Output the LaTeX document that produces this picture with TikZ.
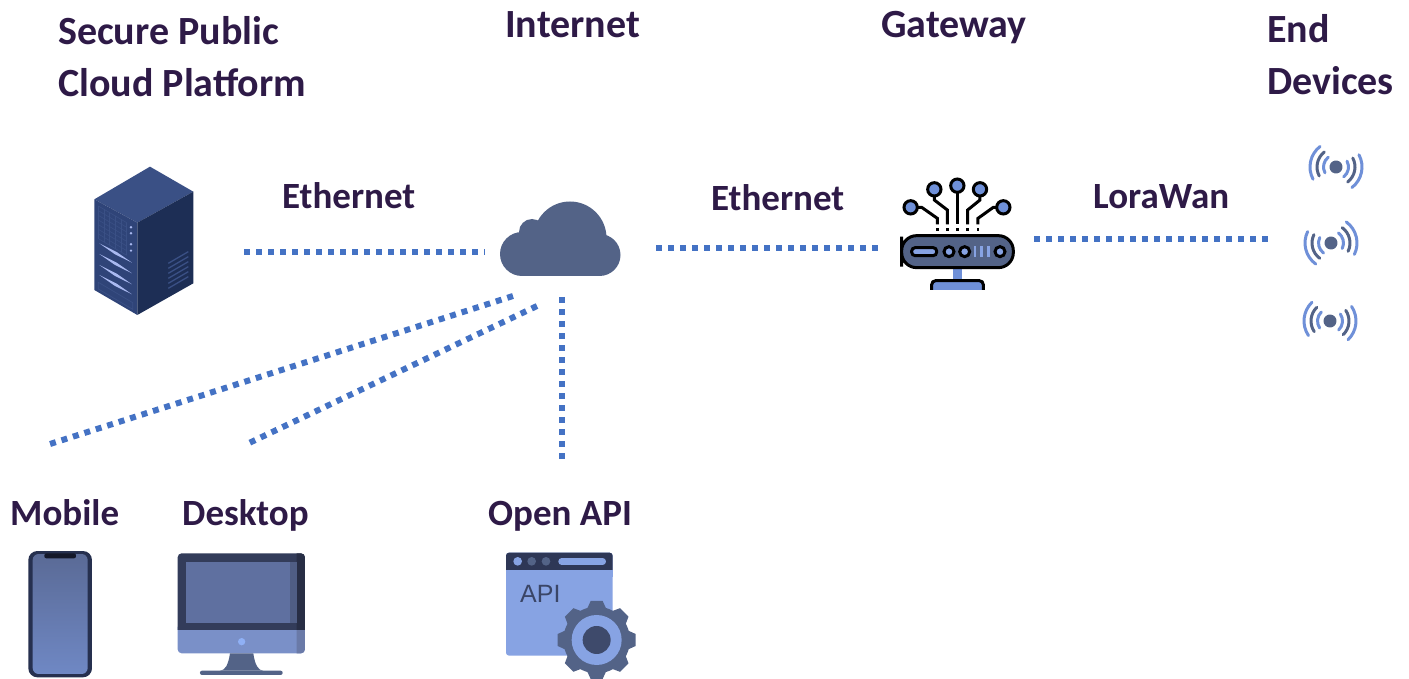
\documentclass[tikz,border=0pt]{standalone}
\usepackage{fontspec}
\setmainfont{Carlito}
\newfontfamily\apifont{Liberation Sans}
\usetikzlibrary{positioning}

\definecolor{titletext}{HTML}{2E1A47}
\definecolor{linkblue}{HTML}{4472C4}
\definecolor{slate}{HTML}{536387}
\definecolor{navy}{HTML}{2E3756}
\definecolor{sky}{HTML}{87A3E3}
\definecolor{rackface}{HTML}{2F4478}
\definecolor{racktop}{HTML}{3A5085}
\definecolor{rackside}{HTML}{1D2E55}
\definecolor{rackglow}{HTML}{A9B9F0}
\definecolor{routerblue}{HTML}{6F90D8}
\definecolor{phoneedge}{HTML}{26304F}
\definecolor{phonetop}{HTML}{5A6A96}
\definecolor{phonelow}{HTML}{6F88C4}
\definecolor{phonenotch}{HTML}{14182A}
\definecolor{deskframe}{HTML}{333C5A}
\definecolor{deskshade}{HTML}{282E45}
\definecolor{deskscreen}{HTML}{5F70A0}
\definecolor{deskstrip}{HTML}{505E85}
\definecolor{deskchin}{HTML}{7A90C8}
\definecolor{deskchinr}{HTML}{6A7AA8}
\definecolor{deskdot}{HTML}{8FB0F5}
\definecolor{apitext}{HTML}{3A4566}
\definecolor{gearhub}{HTML}{3E4A6B}

\tikzset{
    title/.style={font=\fontsize{40}{52}\selectfont\bfseries, text=titletext, anchor=base west, inner sep=0pt, align=left},
    caption/.style={title, font=\fontsize{37}{52}\selectfont\bfseries},
    link/.style={linkblue, line width=6pt, dash pattern=on 6pt off 6pt},
    zoomed/.style={shift={#1}, x=.3333pt, y=-.3333pt},
    outline/.style={draw=black, line width=3pt},
    wave/.pic={
        \fill[slate] (0,0) circle (6.5);
        \foreach \radius/\tone in {12.5/routerblue, 19/slate, 26/routerblue} {
            \draw[\tone, line width=3pt, line cap=round] (-40:\radius) arc (-40:40:\radius);
            \draw[\tone, line width=3pt, line cap=round] (140:\radius) arc (140:220:\radius);
        }
    },
}

\begin{document}
\begin{tikzpicture}[x=1pt, y=-1pt]

    \useasboundingbox (0,0) rectangle (1409,679);
    \clip (0,0) rectangle (1409,679);

    \node[title]   (cloudtitle)    at (58,97)    {Secure Public\\Cloud Platform};
    \node[title]   (internettitle) at (505,38)   {Internet};
    \node[title]   (gatewaytitle)  at (881,38)   {Gateway};
    \node[title]   (devicestitle)  at (1267,95)  {End\\Devices};
    \node[caption] (etherleft)     at (282,209)  {Ethernet};
    \node[caption] (etherright)    at (711,211)  {Ethernet};
    \node[caption] (lorawan)       at (1093,209) {LoraWan};
    \node[caption] (mobile)        at (10,525)   {Mobile};
    \node[caption] (desktop)       at (182,525)  {Desktop};
    \node[caption] (openapi)       at (488,525)  {Open API};

    \coordinate (serverport)  at (244,252);
    \coordinate (cloudwest)   at (485,252);
    \coordinate (cloudeast)   at (656,248);
    \coordinate (gatewaywest) at (878,248);
    \coordinate (gatewayeast) at (1034,239);
    \coordinate (deviceport)  at (1268,239);
    \coordinate (cloudmobile) at (513,296);
    \coordinate (mobileport)  at (50,444);
    \coordinate (clouddesk)   at (537,306);
    \coordinate (deskport)    at (247,444);
    \coordinate (cloudapi)    at (562,297);
    \coordinate (apiport)     at (562,460);

    \draw[link] (serverport)  -- (cloudwest);
    \draw[link] (cloudeast)   -- (gatewaywest);
    \draw[link] (gatewayeast) -- (deviceport);
    \draw[link] (cloudmobile) -- (mobileport);
    \draw[link] (clouddesk)   -- (deskport);
    \draw[link] (cloudapi)    -- (apiport);

    \begin{scope}[zoomed={(60,150)}]
        \fill[racktop] (270,50) -- (400,125) -- (232,218) -- (103,148) -- cycle;
        \fill[rackface] (103,148) -- (232,218) -- (232,495) -- (103,420) -- cycle;
        \fill[rackside] (232,218) -- (400,125) -- (400,400) -- (232,495) -- cycle;
        \foreach \ystart in {168,182,196,210,224,238,252,266}
            \draw[racktop, line width=.6pt] (115,\ystart) -- (200,{\ystart+50});
        \foreach \xstart in {115,132,149,166,183,200}
            \draw[racktop, line width=.6pt] (\xstart,{168+.59*(\xstart-115)}) -- (\xstart,{266+.59*(\xstart-115)});
        \foreach \ydot in {232,250,283,302}
            \fill[rackglow] (213,\ydot) circle (4);
        \foreach \ystart in {280,312,345,375}
            \fill[rackglow] (118,\ystart) -- (170,{\ystart+26}) -- (216,{\ystart+58}) -- (165,{\ystart+33}) -- cycle;
        \draw[racktop, line width=.7pt] (115,397) -- (218,458) -- (218,478) -- (115,417) -- cycle;
        \foreach \ystart in {340,355,370,385,400,415}
            \draw[racktop, line width=1.3pt] (325,\ystart) -- (385,{\ystart-35});
    \end{scope}

    \begin{scope}[slate]
        \fill (570,238) circle (36.5);
        \fill (532,232) circle (13);
        \fill (522,254) circle (22);
        \fill (599.5,255) circle (21);
        \fill (522,240) rectangle (600,276);
    \end{scope}

    \begin{scope}[zoomed={(880,165)}]
        \draw[black, line width=3pt] (92,127) -- (125,127) -- (172,160) -- (172,178);
        \draw[black, line width=3pt] (370,127) -- (340,127) -- (294,160) -- (294,178);
        \draw[black, line width=3pt] (163,73) -- (163,105) -- (202,135) -- (202,178);
        \draw[black, line width=3pt] (300,73) -- (300,105) -- (263,135) -- (263,178);
        \draw[black, line width=3pt] (232,62) -- (232,178);
        \foreach \xtop/\ytop in {92/127, 163/73, 232/62, 300/73, 370/127}
            \draw[outline, fill=routerblue] (\xtop,\ytop) circle (20);
        \foreach \xtop in {172,202,232,263,294}
            \fill[black] (\xtop-4,188) rectangle (\xtop+4,197);
        \fill[routerblue] (220,305) rectangle (247,348);
        \draw[outline, fill=routerblue] (155,375) [rounded corners=4pt] -- (155,347) -- (310,347) [sharp corners] -- (310,375);
        \draw[outline, fill=slate, rounded corners=15pt] (65,260) -- (65,212) -- (400,212) -- (400,308) -- (65,308) -- cycle;
        \draw[outline, fill=sky, rounded corners=3.5pt] (95,248) rectangle (170,272);
        \foreach \xbtn in {207,254,360}
            \draw[outline, fill=sky] (\xbtn,260) circle (15);
        \foreach \xbar in {285,305,325}
            \fill[sky] (\xbar-4,243) rectangle (\xbar+4,277);
    \end{scope}

    \pic[rotate=-12] (wavetop)    at (1336,167) {wave};
    \pic[rotate=14]  (wavemiddle) at (1331,243) {wave};
    \pic[rotate=-6]  (wavebottom) at (1330,321) {wave};

    \begin{scope}[zoomed={(0,540)}]
        \fill[phoneedge, rounded corners=9pt] (85,33) rectangle (276,412);
        \shade[top color=phonetop, bottom color=phonelow, rounded corners=6pt] (98,42) rectangle (263,402);
        \fill[phonenotch, rounded corners=2pt] (133,40) rectangle (228,55);
    \end{scope}

    \begin{scope}[zoomed={(0,540)}]
        \fill[deskchin, rounded corners=4pt] (533,250) -- (533,340) -- (915,340) -- (915,250) -- cycle;
        \fill[deskchinr] (890,260) -- (890,340) [rounded corners=4pt] -- (915,340) [sharp corners] -- (915,260) -- cycle;
        \fill[deskframe] (533,270) [rounded corners=4pt] -- (533,40) -- (915,40) [sharp corners] -- (915,270) -- cycle;
        \fill[deskshade] (890,270) -- (890,40) [rounded corners=4pt] -- (915,40) [sharp corners] -- (915,270) -- cycle;
        \fill[deskscreen] (557,65) rectangle (870,248);
        \fill[deskstrip] (870,65) rectangle (890,248);
        \fill[deskdot] (725,305) circle (11);
        \fill[slate] (690,340) -- (760,340) .. controls (765,375) and (775,392) .. (790,392) -- (660,392) .. controls (675,392) and (685,375) .. (690,340) -- cycle;
        \fill[slate, rounded corners=2pt] (600,392) rectangle (848,405);
    \end{scope}

    \begin{scope}[zoomed={(490,540)}]
        \fill[sky, rounded corners=3pt] (48,38) rectangle (368,347);
        \fill[navy, rounded corners=3pt] (48,100) -- (48,38) -- (368,38) -- (368,100) -- cycle;
        \fill[sky] (48,90) rectangle (368,110);
        \fill[sky]   (83,64)  circle (13);
        \fill[slate] (125,64) circle (13);
        \fill[slate] (168,64) circle (13);
        \fill[sky, rounded corners=3.4pt] (205,54) rectangle (348,75);
        \node[font=\apifont\fontsize{25}{25}\selectfont, text=apitext, anchor=base west, inner sep=0pt] (apilabel) at (90,188) {API};
        \fill[slate] (320,300) circle (100);
        \foreach \turn in {0,45,...,315}
            \fill[slate, rotate around={\turn:(320,300)}] (292,205) -- (302,183) -- (338,183) -- (348,205) -- cycle;
        \fill[sky] (320,300) circle (75);
        \fill[gearhub] (320,300) circle (42);
    \end{scope}

\end{tikzpicture}
\end{document}
